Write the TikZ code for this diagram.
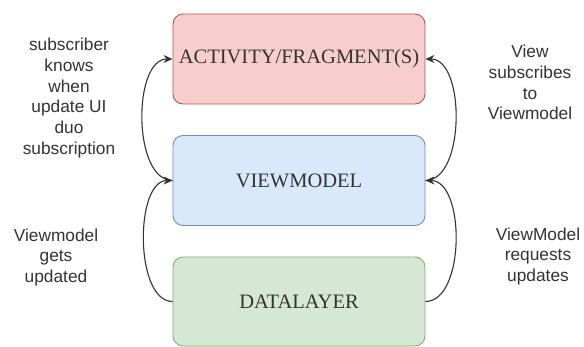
\documentclass[tikz,border=0pt]{standalone}
\usepackage{fontspec}
\setmainfont{Liberation Serif}
\newfontfamily\labelfont{Liberation Sans}
\usetikzlibrary{arrows.meta}
\definecolor{redfill}{HTML}{F8CECC}
\definecolor{redline}{HTML}{B85450}
\definecolor{bluefill}{HTML}{DAE8FC}
\definecolor{blueline}{HTML}{6C8EBF}
\definecolor{greenfill}{HTML}{D5E8D4}
\definecolor{greenline}{HTML}{82B366}
\definecolor{txt}{HTML}{333333}
\tikzset{
  layerbox/.style={rounded corners=10pt, minimum width=252pt, minimum height=90pt, inner sep=0pt, line width=0.9pt, text=txt, font=\fontsize{20.5}{24}\selectfont},
  sidelabel/.style={align=center, text=txt, inner sep=0pt, font=\labelfont\fontsize{17.3}{20.7}\selectfont},
  flow/.style={draw=txt, line width=1.1pt, -{Stealth[length=9pt,width=8pt,inset=3pt]}}
}
\begin{document}
\begin{tikzpicture}[x=1pt,y=-1pt]
\useasboundingbox (0,0) rectangle (584,346);
\node[layerbox, fill=redfill, draw=redline] (act) at (299,59) {ACTIVITY/FRAGMENT(S)};
\node[layerbox, fill=bluefill, draw=blueline] (vm) at (299,180.5) {VIEWMODEL};
\node[layerbox, fill=greenfill, draw=greenline, minimum height=89pt] (dl) at (299,301.5) {DATALAYER};

\draw[flow] (vm.west) .. controls +(-40,0) and +(-40,0) .. (act.west);
\draw[flow] (dl.west) .. controls +(-38,0) and +(-38,0) .. (vm.west);
\draw[flow] (vm.east) .. controls +(40,0) and +(40,0) .. (act.east);
\draw[flow] (dl.east) .. controls +(40,0) and +(40,0) .. (vm.east);

\node[sidelabel] (l1) at (69,98) {subscriber\\knows\\when\\update UI\\duo\\subscription};
\node[sidelabel] (l2) at (530,82.5) {View\\subscribes\\to\\Viewmodel};
\node[sidelabel] (l3) at (56,257.5) {Viewmodel\\gets\\updated};
\node[sidelabel] (l4) at (538,256.5) {ViewModel\\requests\\updates};
\end{tikzpicture}
\end{document}
